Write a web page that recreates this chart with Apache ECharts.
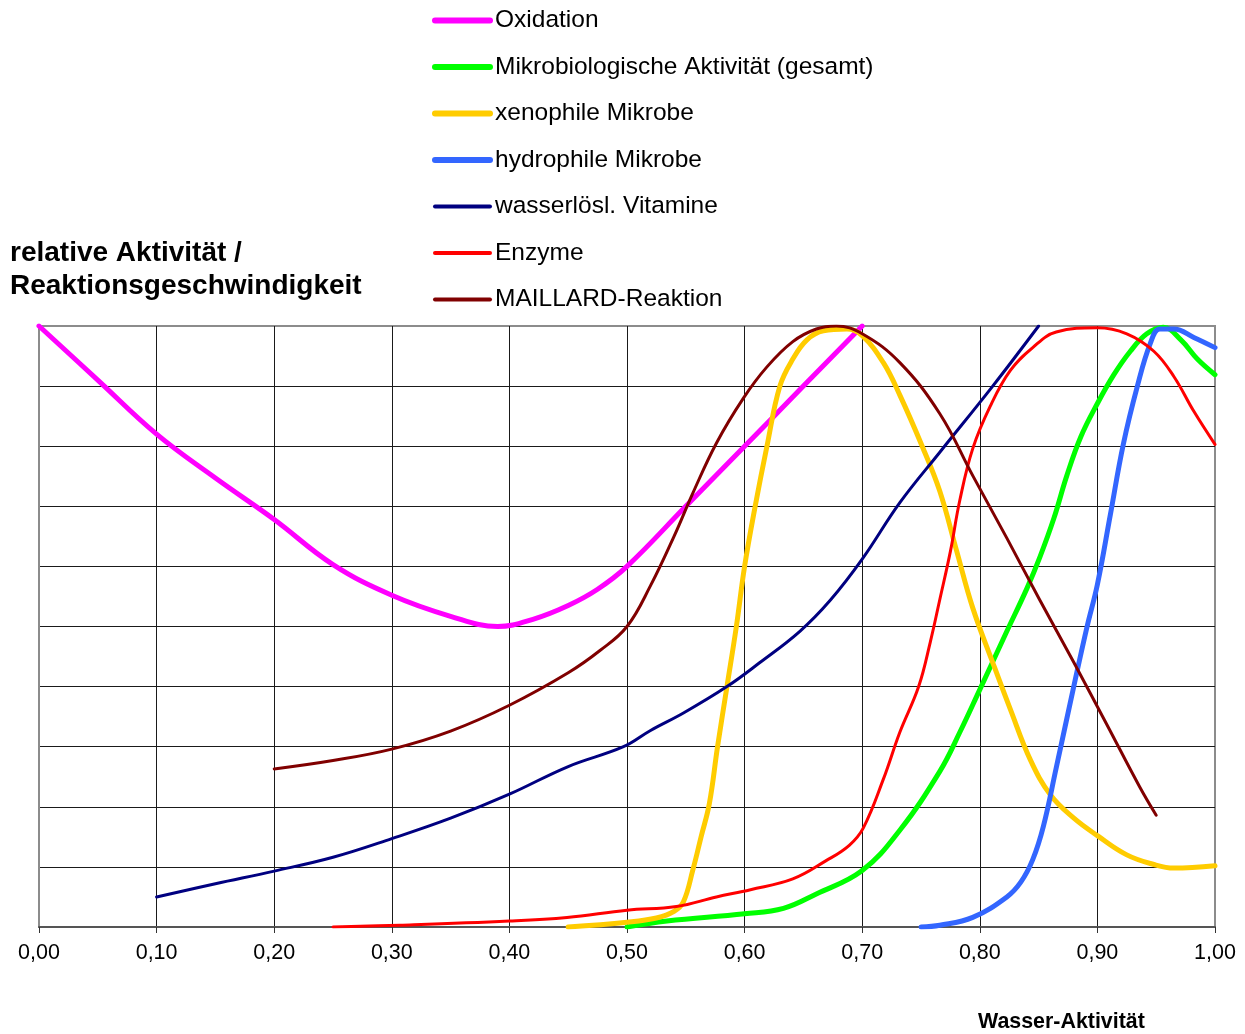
<!DOCTYPE html>
<html>
<head>
<meta charset="utf-8">
<script src="https://cdn.jsdelivr.net/npm/echarts@6/dist/echarts.min.js"></script>
<style>
  html, body { margin: 0; padding: 0; background: #fff; }
  #chart { width: 1245px; height: 1034px; }
</style>
</head>
<body>
<div id="chart"></div>
<script>
// Relative activity / reaction rate versus water activity (a_w)
const seriesNames = [
  'Oxidation',
  'Mikrobiologische Aktivität (gesamt)',
  'xenophile Mikrobe',
  'hydrophile Mikrobe',
  'wasserlösl. Vitamine',
  'Enzyme',
  'MAILLARD-Reaktion'
];
const seriesColors = ['#ff00ff', '#00ff00', '#ffcc00', '#3366ff', '#000080', '#ff0000', '#800000'];
const seriesWidths = [5, 5, 5, 5, 3, 3, 3];

const oxidationX = [0, 0.05, 0.10, 0.15, 0.20, 0.25, 0.30, 0.35, 0.39, 0.42, 0.45, 0.475, 0.50, 0.55, 0.60, 0.65, 0.70];
const oxidationY = [10, 9.1, 8.2, 7.47, 6.78, 6.03, 5.52, 5.17, 5.0, 5.12, 5.35, 5.62, 6.0, 7.0, 8.0, 9.0, 10.0];

const microbesX = [0.50, 0.534, 0.60, 0.633, 0.661, 0.70, 0.732, 0.766, 0.783, 0.80, 0.823, 0.84, 0.851, 0.863, 0.874, 0.886, 0.90, 0.914, 0.928, 0.942, 0.956, 0.971, 0.985, 1.0];
const microbesY = [0.0, 0.1, 0.22, 0.31, 0.55, 0.94, 1.61, 2.59, 3.24, 3.95, 4.92, 5.63, 6.15, 6.8, 7.51, 8.16, 8.71, 9.19, 9.58, 9.87, 9.98, 9.77, 9.45, 9.19];

const xenophileX = [0.45, 0.50, 0.525, 0.54, 0.548, 0.556, 0.563, 0.570, 0.577, 0.585, 0.593, 0.600, 0.609, 0.619, 0.630, 0.641, 0.653, 0.667, 0.687, 0.70, 0.718, 0.732, 0.751, 0.766, 0.78, 0.794, 0.811, 0.826, 0.843, 0.86, 0.88, 0.90, 0.925, 0.948, 0.965, 1.0];
const xenophileY = [0.0, 0.08, 0.15, 0.26, 0.42, 0.95, 1.5, 2.05, 3.0, 4.0, 5.0, 6.0, 7.0, 8.0, 9.0, 9.45, 9.77, 9.92, 9.95, 9.84, 9.39, 8.85, 8.0, 7.25, 6.28, 5.31, 4.4, 3.62, 2.78, 2.2, 1.81, 1.52, 1.2, 1.04, 0.98, 1.02];

const hydrophileX = [0.75, 0.766, 0.794, 0.823, 0.835, 0.845, 0.854, 0.865, 0.880, 0.891, 0.90, 0.911, 0.922, 0.934, 0.945, 0.953, 0.965, 0.982, 1.0];
const hydrophileY = [0.0, 0.03, 0.16, 0.5, 0.75, 1.12, 1.67, 2.65, 4.01, 4.98, 5.7, 6.86, 8.03, 9.0, 9.71, 9.95, 9.95, 9.81, 9.64];

const vitaminsX = [0.10, 0.15, 0.20, 0.25, 0.30, 0.35, 0.40, 0.45, 0.497, 0.52, 0.548, 0.585, 0.613, 0.647, 0.673, 0.70, 0.732, 0.766, 0.811, 0.85];
const vitaminsY = [0.5, 0.72, 0.93, 1.16, 1.47, 1.81, 2.21, 2.67, 3.0, 3.27, 3.56, 4.0, 4.4, 4.92, 5.44, 6.12, 7.06, 7.9, 9.0, 10.0];

const enzymesX = [0.25, 0.307, 0.40, 0.449, 0.50, 0.542, 0.576, 0.605, 0.641, 0.669, 0.689, 0.701, 0.718, 0.732, 0.748, 0.758, 0.766, 0.775, 0.783, 0.794, 0.809, 0.826, 0.845, 0.865, 0.90, 0.925, 0.948, 0.965, 0.982, 1.0];
const enzymesY = [0.0, 0.03, 0.1, 0.16, 0.28, 0.34, 0.5, 0.62, 0.8, 1.1, 1.36, 1.65, 2.46, 3.24, 4.0, 4.75, 5.45, 6.25, 7.1, 7.96, 8.67, 9.26, 9.64, 9.9, 9.97, 9.87, 9.58, 9.16, 8.58, 8.03];

const maillardX = [0.20, 0.25, 0.30, 0.35, 0.40, 0.45, 0.477, 0.50, 0.52, 0.54, 0.556, 0.576, 0.599, 0.619, 0.641, 0.661, 0.678, 0.70, 0.732, 0.766, 0.794, 0.823, 0.851, 0.88, 0.908, 0.936, 0.95];
const maillardY = [2.63, 2.77, 2.96, 3.26, 3.69, 4.23, 4.6, 5.0, 5.68, 6.5, 7.22, 8.05, 8.8, 9.32, 9.74, 9.95, 10.0, 9.87, 9.39, 8.54, 7.51, 6.47, 5.44, 4.40, 3.37, 2.33, 1.86];

const yAxisTitle = 'relative Aktivität /\nReaktionsgeschwindigkeit';
const xAxisTitle = 'Wasser-Aktivität';

const FONT = '"Liberation Sans", Arial, Helvetica, sans-serif';

const pairs = (xs, ys) => xs.map((x, i) => [x, ys[i]]);
const seriesData = [
  pairs(oxidationX, oxidationY),
  pairs(microbesX, microbesY),
  pairs(xenophileX, xenophileY),
  pairs(hydrophileX, hydrophileY),
  pairs(vitaminsX, vitaminsY),
  pairs(enzymesX, enzymesY),
  pairs(maillardX, maillardY)
];

const chart = echarts.init(document.getElementById('chart'), null, { renderer: 'canvas' });

chart.setOption({
  backgroundColor: '#ffffff',
  animation: false,
  title: [
    {
      text: yAxisTitle,
      left: 10,
      top: 237,
      padding: 0,
      textStyle: { fontFamily: FONT, fontSize: 28, fontWeight: 'bold', color: '#000', lineHeight: 33 }
    },
    {
      text: xAxisTitle,
      left: 978,
      top: 1012,
      padding: 0,
      textStyle: { fontFamily: FONT, fontSize: 21.4, fontWeight: 'bold', color: '#000' }
    }
  ],
  legend: {
    orient: 'vertical',
    left: 427,
    top: 3,
    itemWidth: 55,
    itemHeight: 24,
    itemGap: 21.5,
    selectedMode: false,
    itemStyle: { color: 'transparent', borderColor: 'transparent', borderWidth: 0 },
    textStyle: { fontFamily: FONT, fontSize: 24.5, color: '#000', lineHeight: 24 },
    data: seriesNames.map((name, i) => ({
      name,
      lineStyle: { color: seriesColors[i], width: seriesWidths[i] + 1, cap: 'round' }
    }))
  },
  grid: {
    left: 39,
    right: 30,
    top: 326,
    bottom: 107,
    show: true,
    borderColor: '#8c8c8c',
    borderWidth: 2,
    backgroundColor: 'transparent'
  },
  xAxis: {
    type: 'value',
    min: 0,
    max: 1,
    interval: 0.1,
    axisLine: { show: true, lineStyle: { color: '#555', width: 2 } },
    axisTick: { show: true, inside: false, length: 6, lineStyle: { color: '#333', width: 1 } },
    axisLabel: {
      margin: 15,
      fontFamily: FONT,
      fontSize: 21.5,
      color: '#000',
      formatter: v => v.toFixed(2).replace('.', ',')
    },
    splitLine: { show: true, showMinLine: false, showMaxLine: false, lineStyle: { color: '#1a1a1a', width: 1 } }
  },
  yAxis: {
    type: 'value',
    min: 0,
    max: 10,
    interval: 1,
    axisLine: { show: true, lineStyle: { color: '#8c8c8c', width: 2 } },
    axisTick: { show: false },
    axisLabel: { show: false },
    splitLine: { show: true, showMinLine: false, showMaxLine: false, lineStyle: { color: '#1a1a1a', width: 1 } }
  },
  series: seriesNames.map((name, i) => ({
    name,
    type: 'line',
    data: seriesData[i],
    smooth: 0.4,
    symbol: 'none',
    clip: true,
    color: seriesColors[i],
    lineStyle: { color: seriesColors[i], width: seriesWidths[i], cap: 'round', join: 'round' },
    emphasis: { disabled: true },
    z: 2 + i
  }))
});
</script>
</body>
</html>
